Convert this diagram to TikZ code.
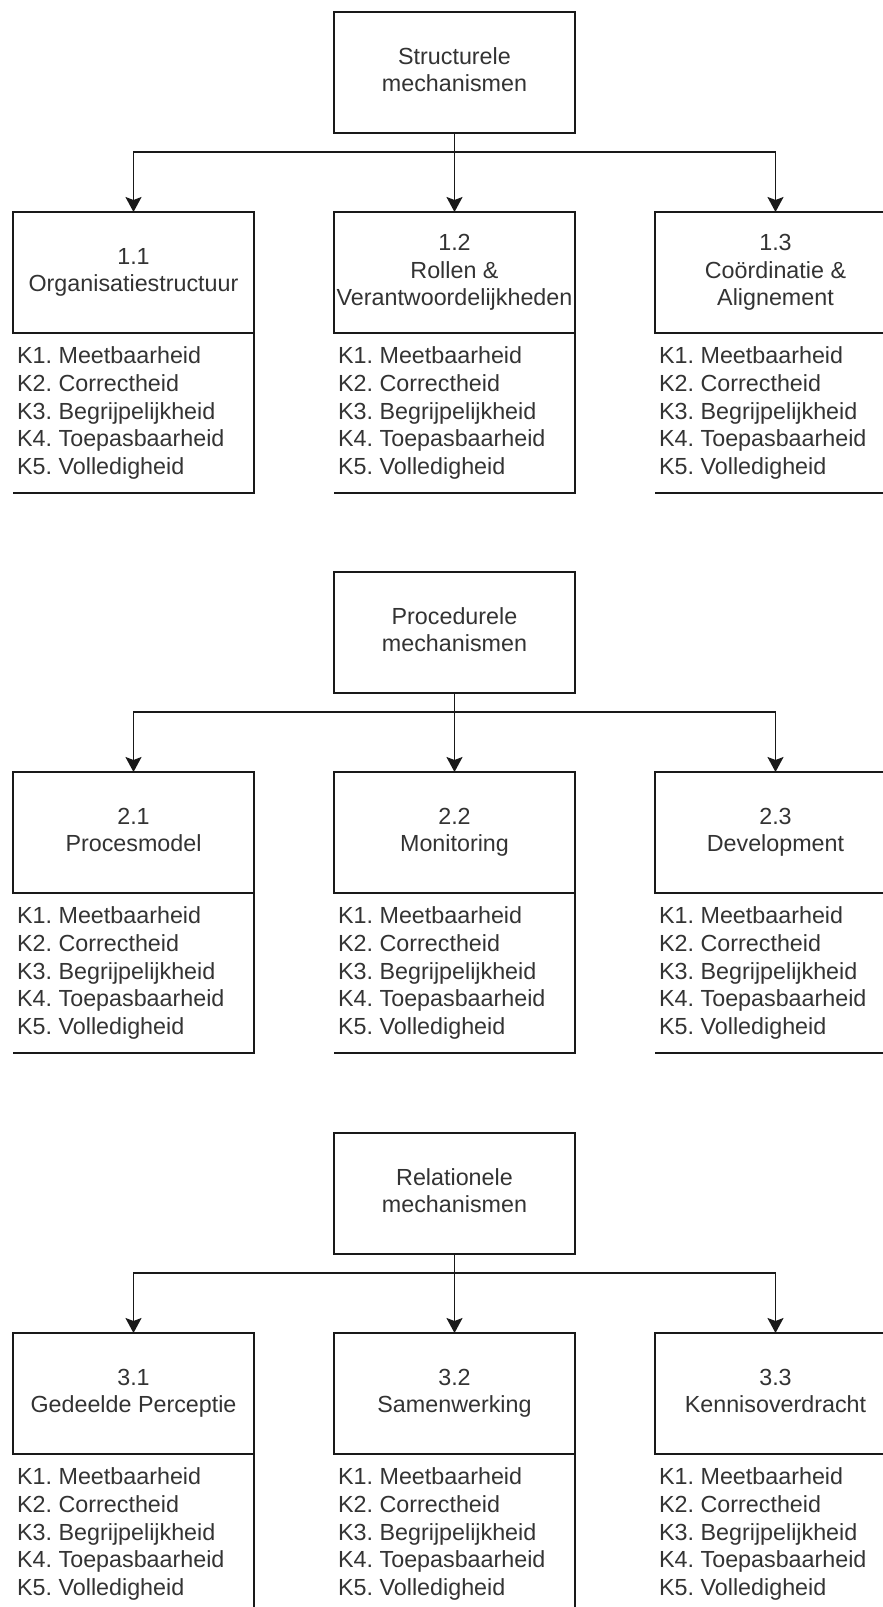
\documentclass[tikz,border=0pt]{standalone}
\usepackage{fontspec}
\setmainfont{Liberation Sans}
\usetikzlibrary{arrows.meta}
\tikzset{
  x=1pt, y=-1pt,
  txt/.style={text=black!80, font=\fontsize{23.3}{27.7}\selectfont\frenchspacing},
  box/.style={txt, draw=black!90, line width=1.8pt, minimum width=241pt, minimum height=121pt,
    inner sep=0pt, outer sep=0pt, align=center},
  listtxt/.style={txt, align=left, inner sep=0pt, anchor=west},
  edgeline/.style={line width=1.8pt, draw=black!90},
  conn/.style={edgeline, -{Stealth[length=15pt,width=16pt,inset=3pt]}},
}
\newcommand\klist{K1. Meetbaarheid\\K2. Correctheid\\K3. Begrijpelijkheid\\K4. Toepasbaarheid\\K5. Volledigheid}
\newcommand\mechblock[6]{%
  \node[box] (#1t) at (454.5,{#2+60.5}) {\strut #3\strut};
  \node[box] (#1a) at (133.5,{#2+260.5}) {\strut #4\strut};
  \node[box] (#1b) at (454.5,{#2+260.5}) {\strut #5\strut};
  \node[box] (#1c) at (775.5,{#2+260.5}) {\strut #6\strut};
  \coordinate (#1j) at (454.5,{#2+140});
  \draw[edgeline] (#1t.south) -- (#1j);
  \draw[conn] (#1j) -| (#1a.north);
  \draw[conn] (#1t.south) -- (#1b.north);
  \draw[conn] (#1j) -| (#1c.north);
  \foreach \k in {a,b,c}{
    \draw[edgeline] ([yshift=-160pt]#1\k.south west) -- ([yshift=-160pt]#1\k.south east) -- (#1\k.south east);
    \node[listtxt] (#1\k l) at ([xshift=4pt,yshift=-80pt]#1\k.south west) {\klist};
  }
}
\begin{document}
\begin{tikzpicture}
\clip (0,0) rectangle (883,1607);
\fill[white] (0,0) rectangle (883,1607);
\mechblock{s}{12}{Structurele\\mechanismen}{1.1\\Organisatiestructuur}{1.2\\Rollen \&\\Verantwoordelijkheden}{1.3\\Coördinatie \&\\Alignement}
\mechblock{p}{572}{Procedurele\\mechanismen}{2.1\\Procesmodel}{2.2\\Monitoring}{2.3\\Development}
\mechblock{r}{1133}{Relationele\\mechanismen}{3.1\\Gedeelde Perceptie}{3.2\\Samenwerking}{3.3\\Kennisoverdracht}
\end{tikzpicture}
\end{document}
